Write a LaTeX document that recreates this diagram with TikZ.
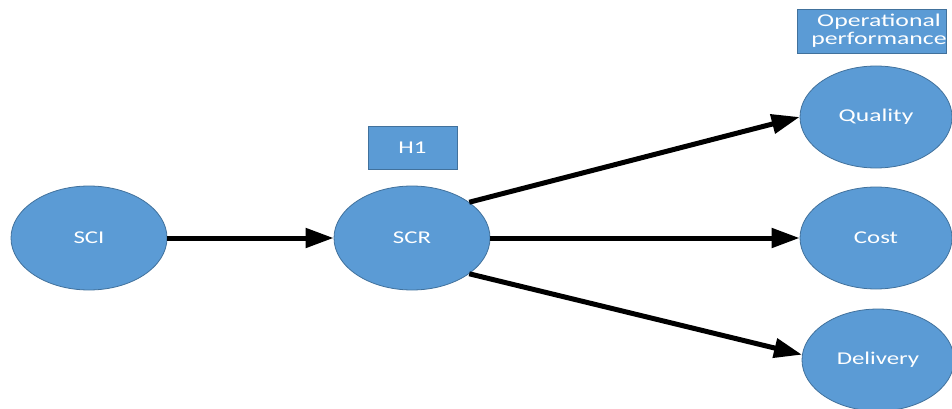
\documentclass[tikz,border=0pt]{standalone}
\usepackage{fontspec}
\setmainfont{Carlito}
\usetikzlibrary{shapes.geometric,arrows.meta}
\definecolor{boxfill}{HTML}{5B9BD5}
\definecolor{boxline}{HTML}{41719C}
\newcommand\widetext[2][1.38]{\scalebox{#1}[1]{#2}}
\tikzset{
  construct/.style={ellipse, draw=boxline, line width=0.8pt, fill=boxfill,
    minimum width=156pt, minimum height=104pt, inner sep=0pt,
    text=white, font=\fontsize{18}{20}\selectfont},
  tagbox/.style={rectangle, draw=boxline, line width=0.8pt, fill=boxfill,
    inner sep=0pt, text=white, align=center, font=\fontsize{18}{19}\selectfont},
  tagtext/.style={inner sep=0pt, text=white, align=center,
    font=\fontsize{18}{19}\selectfont},
  link/.style={line width=5pt, -{Triangle[length=28pt,width=19pt]}}
}
\begin{document}
\begin{tikzpicture}[x=1pt,y=-1pt]
  \useasboundingbox (0,0) rectangle (952,409);
  \clip (0,0) rectangle (952,409);
  % constructs
  \node[construct] (sci) at (89,238) {\widetext{SCI}};
  \node[construct] (scr) at (412,238) {\widetext{SCR}};
  \node[construct, minimum width=152pt, minimum height=102pt] (quality) at (876,117) {\widetext[1.42]{Quality}};
  \node[construct, minimum width=152pt, minimum height=102pt] (cost) at (876,238) {\widetext{Cost}};
  \node[construct, minimum width=152pt, minimum height=102pt] (delivery) at (878,360) {\widetext{Delivery}};
  % labels
  \node[tagbox, minimum width=89pt, minimum height=43pt] (h1) at (412.5,148) {\widetext{H1}};
  \node[tagbox, minimum width=149pt, minimum height=44pt] (perf) at (871.5,31) {};
  \node[tagtext] (perftext) at (879,31)
    {\widetext[1.43]{Operational}\\[-1pt]\widetext[1.43]{performance}};
  % paths
  \draw[link] (sci) -- (scr);
  \draw[link] (scr.32) -- (quality.west);
  \draw[link] (scr) -- (cost);
  \draw[link] (scr.-32) -- (delivery.176);
\end{tikzpicture}
\end{document}
